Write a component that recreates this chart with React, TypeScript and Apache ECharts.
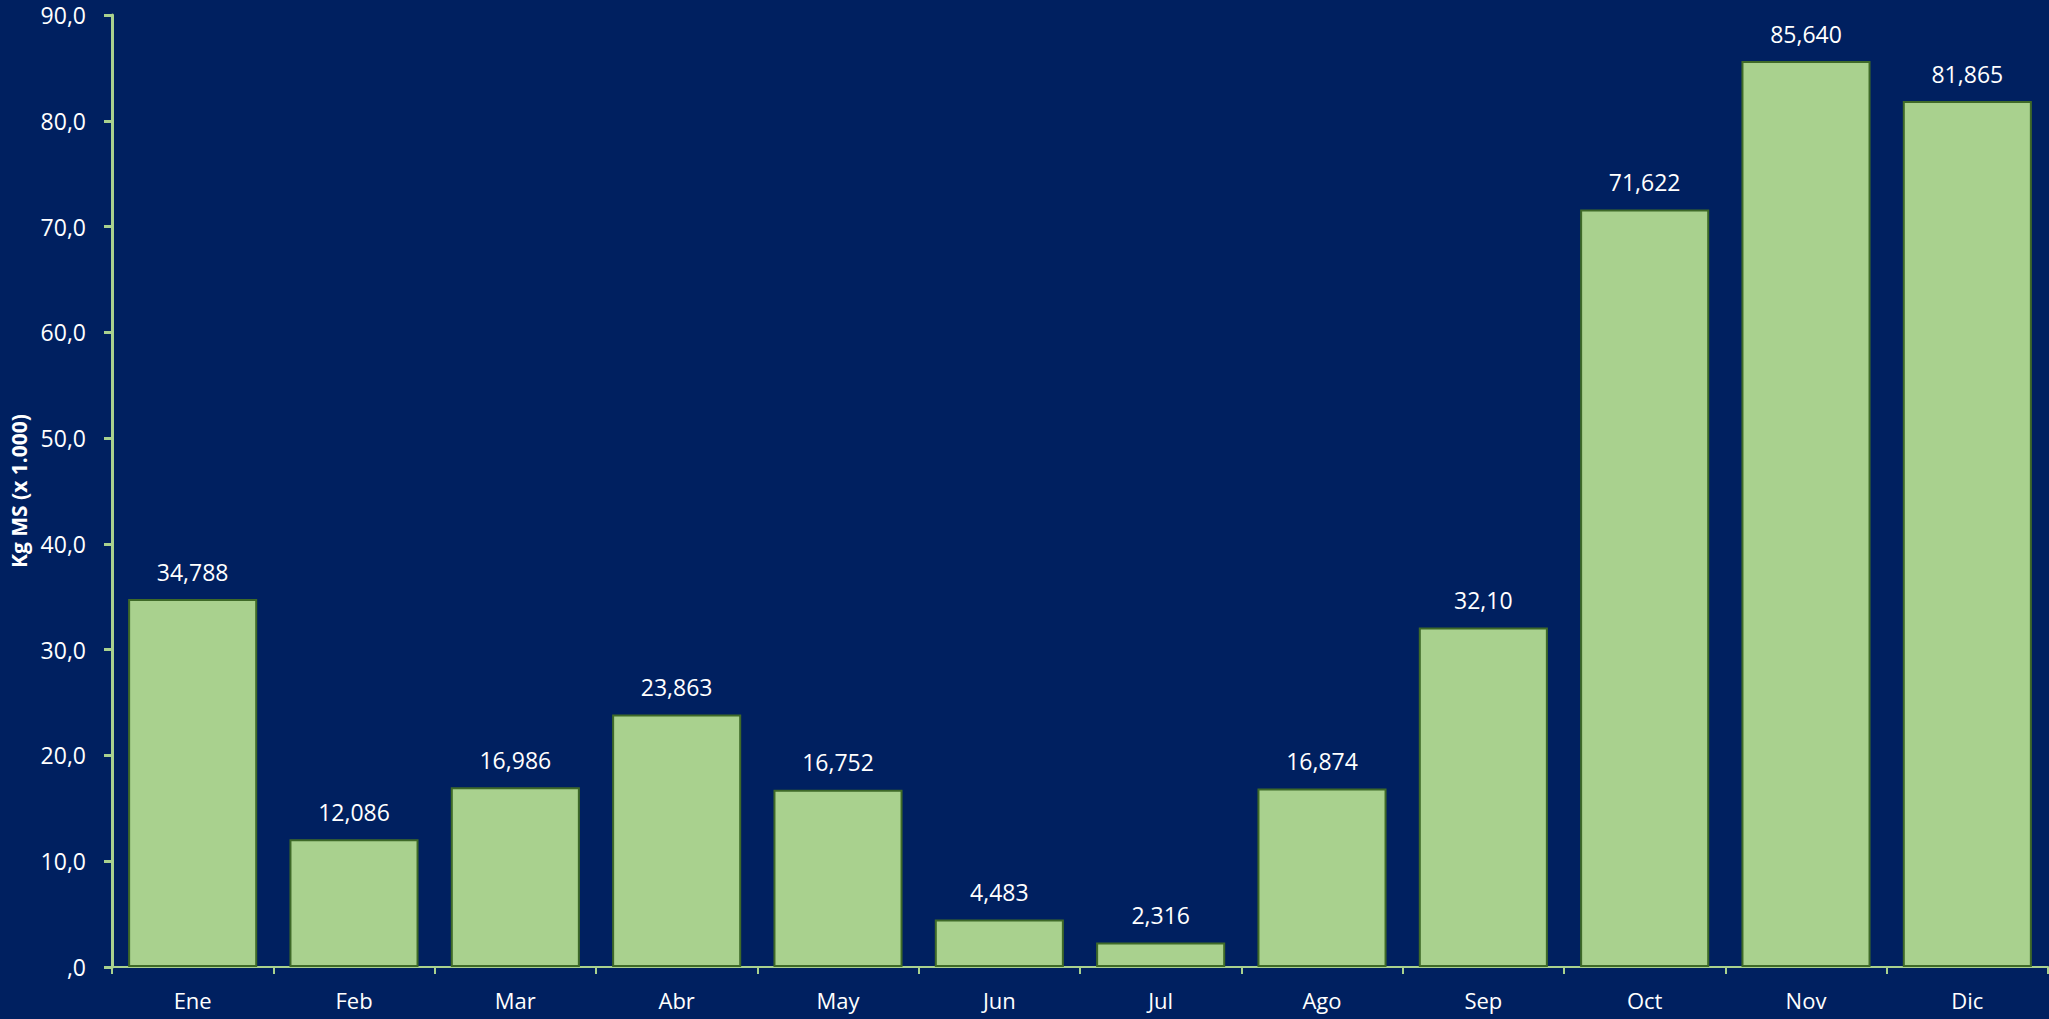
import React, { useEffect, useRef } from "react";
import * as echarts from "echarts";

const categories = ["Ene", "Feb", "Mar", "Abr", "May", "Jun", "Jul", "Ago", "Sep", "Oct", "Nov", "Dic"];
const values = [34.788, 12.086, 16.986, 23.863, 16.752, 4.483, 2.316, 16.874, 32.1, 71.622, 85.64, 81.865];
const valueLabels = ["34,788", "12,086", "16,986", "23,863", "16,752", "4,483", "2,316", "16,874", "32,10", "71,622", "85,640", "81,865"];
const yTitle = "Kg MS (x 1.000)";

const FONT = "'Open Sans', 'Noto Sans', sans-serif";

export default function App() {
  const ref = useRef<HTMLDivElement>(null);
  useEffect(() => {
    if (!ref.current) return;
    const chart = echarts.init(ref.current, undefined, { renderer: "svg" });
    chart.setOption({
      animation: false,
      backgroundColor: "#002060",
      textStyle: { fontFamily: FONT },
      grid: { left: 112, right: 1, top: 15, bottom: 52, containLabel: false },
      xAxis: {
        type: "category",
        data: categories,
        axisLine: { show: true, lineStyle: { color: "#A9D18E", width: 2 } },
        axisTick: { show: true, alignWithLabel: false, length: 7, lineStyle: { color: "#A9D18E", width: 2 } },
        axisLabel: { color: "#FFFFFF", fontSize: 22, margin: 22, fontFamily: FONT },
        splitLine: { show: false },
      },
      yAxis: {
        type: "value",
        min: 0,
        max: 90,
        interval: 10,
        name: yTitle,
        nameLocation: "middle",
        nameGap: 82,
        nameRotate: 90,
        nameTextStyle: { color: "#FFFFFF", fontSize: 21, fontWeight: "bold", fontFamily: FONT },
        axisLine: { show: true, lineStyle: { color: "#A9D18E", width: 3 } },
        axisTick: { show: true, length: 8, lineStyle: { color: "#A9D18E", width: 3 } },
        axisLabel: {
          color: "#FFFFFF",
          fontSize: 23,
          margin: 26,
          fontFamily: FONT,
          formatter: (v: number) => (v === 0 ? ",0" : v.toFixed(1).replace(".", ",")),
        },
        splitLine: { show: false },
      },
      series: [
        {
          type: "bar",
          data: values,
          barCategoryGap: "20%",
          itemStyle: { color: "#A9D18E", borderColor: "#3F6A28", borderWidth: 2 },
          label: {
            show: true,
            position: "top",
            distance: 16,
            color: "#FFFFFF",
            fontSize: 23,
            fontFamily: FONT,
            formatter: (p: any) => valueLabels[p.dataIndex],
          },
        },
      ],
    });
    return () => chart.dispose();
  }, []);
  return (
    <div
      ref={ref}
      style={{ position: "fixed", left: 0, top: 0, width: 2049, height: 1019 }}
    />
  );
}
